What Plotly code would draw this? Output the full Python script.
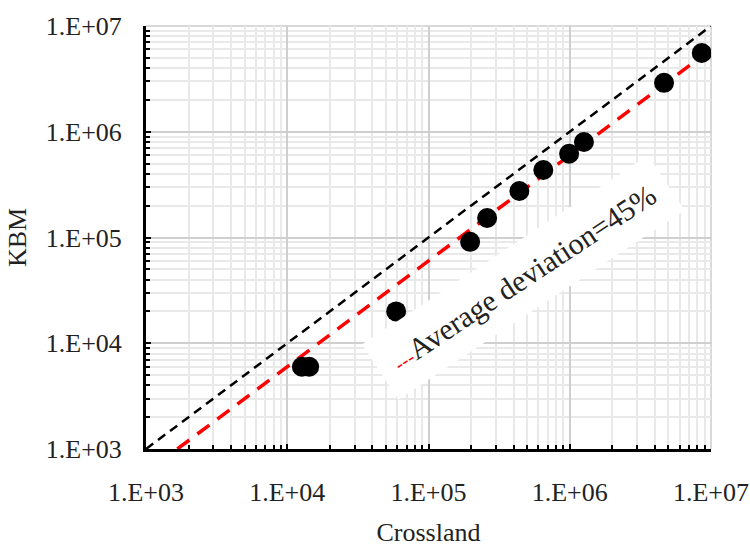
import plotly.graph_objects as go

# ---- data ----
crossland = [1.27e4, 1.43e4, 5.9e4, 1.97e5, 2.6e5, 4.4e5, 6.5e5, 9.9e5, 1.26e6, 4.65e6, 8.6e6]
kbm       = [6.0e3, 6.0e3, 2.0e4, 9.1e4, 1.53e5, 2.75e5, 4.35e5, 6.2e5, 8.0e5, 2.9e6, 5.55e6]

equality_x = [1e3, 1e7]
equality_y = [1e3, 1e7]
fit_factor = 0.6
fit_x = [1e3 / fit_factor, 1e7]
fit_y = [v * fit_factor for v in fit_x]

decades = [1e3, 1e4, 1e5, 1e6, 1e7]
tick_text = ["1.E+03", "1.E+04", "1.E+05", "1.E+06", "1.E+07"]
minor_vals = [m * d for d in decades[:-1] for m in range(2, 10)]

FONT = "Liberation Serif"

fig = go.Figure()
fig.add_trace(go.Scatter(x=equality_x, y=equality_y, mode="lines",
                         line=dict(color="black", width=2.5, dash="9px,6px"),
                         showlegend=False, hoverinfo="skip"))
fig.add_trace(go.Scatter(x=fit_x, y=fit_y, mode="lines",
                         line=dict(color="#ff0000", width=3.5, dash="15px,10px"),
                         showlegend=False, hoverinfo="skip"))
fig.add_trace(go.Scatter(x=crossland, y=kbm, mode="markers",
                         marker=dict(color="black", size=20),
                         showlegend=False))

axis_common = dict(
    type="log", range=[3, 7],
    tickmode="array", tickvals=decades, ticktext=tick_text,
    ticks="inside", ticklen=5, tickwidth=2, tickcolor="black",
    showline=True, linecolor="black", linewidth=3,
    showgrid=True, gridcolor="#cfcfcf", gridwidth=1.5,
    zeroline=False,
    tickfont=dict(family=FONT, size=26, color="#222222"),
    minor=dict(tickmode="array", tickvals=minor_vals, ticks="inside",
               ticklen=4, tickwidth=2, tickcolor="black",
               showgrid=True, gridcolor="#e9e9e9", gridwidth=1.5),
    automargin=False,
)

fig.update_xaxes(**axis_common, ticklabelstandoff=18,
                 title=dict(text="Crossland", standoff=31,
                            font=dict(family=FONT, size=26, color="#222222")))
fig.update_yaxes(**axis_common, ticklabelstandoff=16,
                 title=dict(text="KBM", standoff=12,
                            font=dict(family=FONT, size=26, color="#222222")))

fig.add_shape(type="line", xref="paper", yref="paper", x0=0, x1=1, y0=1, y1=1,
              line=dict(color="#d9d9d9", width=2), layer="below")
fig.add_shape(type="line", xref="paper", yref="paper", x0=1, x1=1, y0=0, y1=1,
              line=dict(color="#d9d9d9", width=2), layer="below")

fig.add_annotation(
    x=5.669, y=4.626, xref="x", yref="y",
    text='<span style="color:#ff0000;font-size:20px">---</span>Average deviation=45%',
    showarrow=False, textangle=-33.5,
    font=dict(family=FONT, size=30, color="#222222"),
    bgcolor="white", borderpad=16,
)

fig.update_layout(
    width=750, height=547,
    margin=dict(l=146, r=39, t=26, b=98),
    paper_bgcolor="white", plot_bgcolor="white",
)

fig.write_html("out.html")
